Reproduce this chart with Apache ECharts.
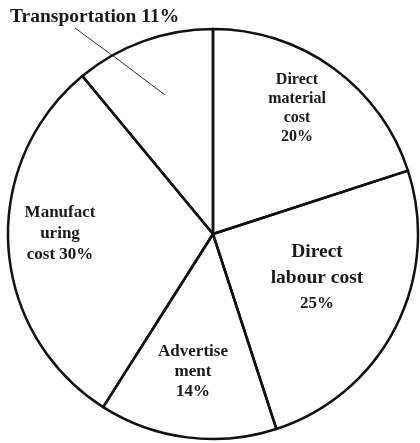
<!DOCTYPE html>
<html>
<head>
<meta charset="utf-8">
<script src="https://cdn.jsdelivr.net/npm/echarts@6/dist/echarts.min.js"></script>
<style>
  html, body { margin: 0; padding: 0; background: #fff; }
  #chart { width: 420px; height: 443px; }
</style>
</head>
<body>
<div id="chart"></div>
<script>
// slices clockwise from 12 o'clock
const names = ['Direct material cost', 'Direct labour cost', 'Advertisement', 'Manufacturing cost', 'Transportation'];
const shares = [20, 25, 14, 30, 11];
const labelTexts = [
  'Direct\nmaterial\ncost\n20%',
  '{big|Direct}\n{big|labour cost}\n{small|25%}',
  'Advertise\nment\n14%',
  'Manufact\nuring\ncost 30%',
  'Transportation 11%'
];

// where each label sits (pixel spots in the picture)
const labelSpots = [
  { x: 297, y: 108, align: 'center' },
  { x: 317, y: 278, align: 'center' },
  { x: 193, y: 372, align: 'center' },
  { x: 60, y: 234, align: 'center' },
  { x: 10, y: 17, align: 'left' }
];
const lineHeights = [19, 26, 20, 21, 20];
const fontSizes = [16, 18, 17, 17, 19.5];

const chart = echarts.init(document.getElementById('chart'));

const data = names.map((n, i) => {
  const item = {
    name: n,
    value: shares[i],
    label: { lineHeight: lineHeights[i], fontSize: fontSizes[i] }
  };
  if (i === 4) {
    item.label.position = 'outside';
    item.labelLine = { show: true, lineStyle: { color: '#333', width: 1 } };
  }
  return item;
});

chart.setOption({
  animation: false,
  series: [{
    type: 'pie',
    center: [213, 234],
    radius: 205,
    startAngle: 90,
    clockwise: true,
    avoidLabelOverlap: false,
    itemStyle: { color: 'rgba(255,255,255,0)', borderColor: '#111', borderWidth: 2.5 },
    emphasis: { disabled: true },
    label: {
      show: true,
      position: 'inside',
      formatter: p => labelTexts[p.dataIndex],
      fontFamily: 'Liberation Serif',
      fontWeight: 'bold',
      color: '#1a1a1a',
      rich: {
        big: { fontFamily: 'Liberation Serif', fontWeight: 'bold', fontSize: 19.5, color: '#1a1a1a', lineHeight: 26 },
        small: { fontFamily: 'Liberation Serif', fontWeight: 'bold', fontSize: 17, color: '#1a1a1a', lineHeight: 26 }
      }
    },
    labelLine: { show: false },
    labelLayout: p => {
      const s = labelSpots[p.dataIndex];
      const out = { x: s.x, y: s.y, align: s.align, verticalAlign: 'middle' };
      if (p.dataIndex === 4) {
        out.labelLinePoints = [[75, 28], [120, 61], [165, 95]];
      }
      return out;
    },
    data: data
  }]
});
</script>
</body>
</html>
